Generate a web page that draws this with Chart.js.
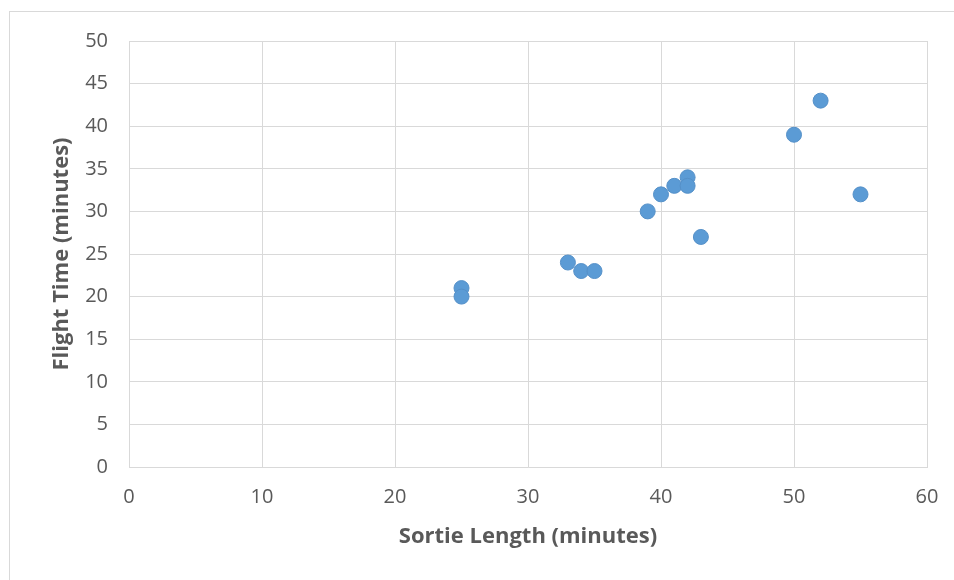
<!DOCTYPE html>
<html>
<head>
<meta charset="utf-8">
<script src="https://cdn.jsdelivr.net/npm/chart.js@4/dist/chart.umd.min.js"></script>
<style>
  html, body { margin: 0; padding: 0; background: #fff; }
  #wrap { position: relative; width: 954px; height: 580px; overflow: hidden; }
  #frame { position: absolute; left: 9px; top: 11px; width: 960px; height: 600px; border: 1px solid #d9d9d9; box-sizing: border-box; }
  canvas { position: absolute; left: 0; top: 0; }
</style>
</head>
<body>
<div id="wrap">
  <div id="frame"></div>
  <canvas id="c" width="954" height="580"></canvas>
</div>
<script>
// sortie length vs flight time (minutes)
const sortieLen = [25, 25, 33, 34, 35, 39, 40, 41, 42, 42, 43, 50, 52, 55];
const flightTime = [21, 20, 24, 23, 23, 30, 32, 33, 34, 33, 27, 39, 43, 32];

const xTitle = "Sortie Length (minutes)";
const yTitle = "Flight Time (minutes)";
const textGray = "#595959";
const gridGray = "#d9d9d9";

const points = sortieLen.map((x, i) => ({ x: x, y: flightTime[i] }));

new Chart(document.getElementById("c"), {
  type: "scatter",
  data: {
    datasets: [{
      data: points,
      backgroundColor: "#5b9bd5",
      borderColor: "#5590c8",
      borderWidth: 1,
      pointRadius: 7.5,
      pointHoverRadius: 7.5
    }]
  },
  options: {
    responsive: false,
    animation: false,
    layout: { padding: { top: 41, right: 27, left: 0, bottom: 0 } },
    plugins: { legend: { display: false }, tooltip: { enabled: false } },
    scales: {
      x: {
        type: "linear",
        min: 0, max: 60,
        ticks: { stepSize: 10, color: textGray, font: { family: "Open Sans", size: 20 }, padding: 18 },
        grid: { color: gridGray, lineWidth: 1, drawTicks: false },
        border: { color: gridGray },
        title: { display: true, text: xTitle, color: textGray, font: { family: "Open Sans", size: 22, weight: "bold" }, padding: { top: 0, bottom: 30 } },
        afterFit: (s) => { s.height = 113; s.paddingLeft = 0; s.paddingRight = 0; }
      },
      y: {
        type: "linear",
        min: 0, max: 50,
        ticks: { stepSize: 5, color: textGray, font: { family: "Open Sans", size: 20 }, padding: 21 },
        grid: { color: gridGray, lineWidth: 1, drawTicks: false },
        border: { color: gridGray },
        title: { display: true, text: yTitle, color: textGray, font: { family: "Open Sans", size: 22, weight: "bold" }, padding: { top: 49, bottom: 0 } },
        afterFit: (s) => { s.width = 129; s.paddingTop = 0; s.paddingBottom = 0; }
      }
    }
  }
});
</script>
</body>
</html>
